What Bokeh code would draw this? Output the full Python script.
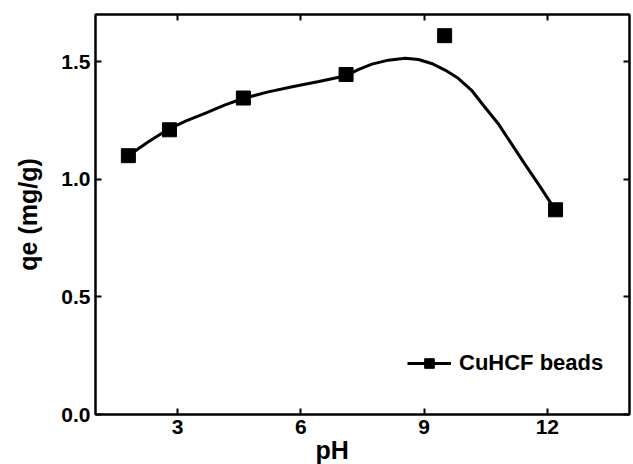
from bokeh.plotting import figure
from bokeh.models import Range1d, LinearAxis, FixedTicker, Title, CustomJSTickFormatter
from bokeh.embed import file_html
from bokeh.resources import INLINE

# measured points
ph = [1.8, 2.8, 4.6, 7.1, 9.5, 12.2]
qe = [1.10, 1.21, 1.345, 1.445, 1.61, 0.87]

# fitted curve
curve_ph = [1.78, 2.27, 2.78, 3.22, 3.68, 4.14, 4.59, 5.18, 5.79, 6.44, 7.10, 7.41,
            7.73, 8.13, 8.54, 8.86, 9.18, 9.51, 9.83, 10.15, 10.47, 10.80, 11.12,
            11.44, 11.77, 12.09, 12.23]
curve_qe = [1.098, 1.157, 1.213, 1.249, 1.281, 1.315, 1.343, 1.370, 1.393, 1.415, 1.440,
            1.467, 1.489, 1.506, 1.514, 1.509, 1.492, 1.464, 1.429, 1.379, 1.308, 1.237,
            1.152, 1.067, 0.982, 0.897, 0.871]

x_ticks = [3, 6, 9, 12]
y_ticks = [0.0, 0.5, 1.0, 1.5]
series_name = "CuHCF beads"
x_title = "pH"
y_title = "qe (mg/g)"

FONT = "Liberation Sans"

p = figure(width=633, height=464, output_backend="svg", toolbar_location=None,
           x_range=Range1d(1, 14), y_range=Range1d(0, 1.7),
           min_border_left=95, min_border_right=4, min_border_top=14,
           min_border_bottom=50)
p.grid.visible = False
p.outline_line_color = "black"
p.outline_line_width = 2
p.background_fill_color = "white"
p.border_fill_color = "white"

p.line(curve_ph, curve_qe, line_color="black", line_width=3, legend_label=series_name)
p.scatter(ph, qe, marker="square", size=14, fill_color="black", line_color="black",
          legend_label=series_name)

for ax in p.xaxis + p.yaxis:
    ax.major_tick_in = 6
    ax.major_tick_out = 0
    ax.minor_tick_line_color = None
    ax.axis_line_width = 2
    ax.major_tick_line_width = 2
    ax.major_label_text_font = FONT
    ax.major_label_text_font_style = "bold"
    ax.major_label_text_font_size = "21px"
    ax.major_label_text_color = "black"

p.xaxis.ticker = FixedTicker(ticks=x_ticks)
p.yaxis.ticker = FixedTicker(ticks=y_ticks)
p.xaxis.major_label_standoff = 5
p.yaxis.major_label_standoff = 5
p.yaxis.formatter = CustomJSTickFormatter(code="return tick.toFixed(1);")

p.yaxis.axis_label = y_title
p.yaxis.axis_label_text_font = FONT
p.yaxis.axis_label_text_font_style = "bold"
p.yaxis.axis_label_text_font_size = "25px"
p.yaxis.axis_label_text_color = "black"
p.yaxis.axis_label_standoff = 16

for side in ("above", "right"):
    ax = LinearAxis(major_tick_in=6, major_tick_out=0, minor_tick_line_color=None,
                    major_label_standoff=0, axis_line_width=2, major_tick_line_width=2,
                    formatter=CustomJSTickFormatter(code="return '';"))
    ax.ticker = FixedTicker(ticks=x_ticks if side == "above" else y_ticks)
    p.add_layout(ax, side)

p.add_layout(Title(text=x_title, align="left", offset=220, standoff=-6,
                   text_font=FONT, text_font_style="bold", text_font_size="25px",
                   text_color="black"), "below")

lg = p.legend[0]
lg.location = (312, 38)
lg.border_line_color = None
lg.background_fill_alpha = 0
lg.padding = 0
lg.margin = 0
lg.spacing = 0
lg.glyph_width = 44
lg.glyph_height = 24
lg.label_standoff = 8
lg.label_text_font = FONT
lg.label_text_font_style = "bold"
lg.label_text_font_size = "22px"
lg.label_text_color = "black"

open("out.html", "w").write(file_html(p, INLINE))
